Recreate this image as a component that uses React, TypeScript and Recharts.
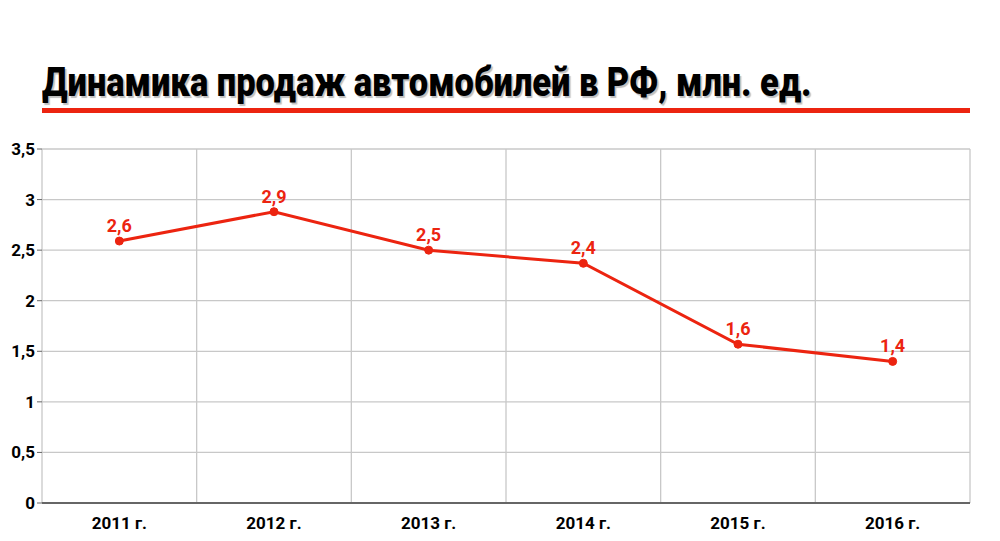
import { LineChart, Line, XAxis, YAxis, CartesianGrid, LabelList } from 'recharts';

const years = ['2011 г.', '2012 г.', '2013 г.', '2014 г.', '2015 г.', '2016 г.'];
const sales = [2.59, 2.88, 2.5, 2.37, 1.57, 1.4];
const yTicks = [0, 0.5, 1, 1.5, 2, 2.5, 3, 3.5];

const RED = '#ec2410';
const FONT = 'Roboto, Arial, sans-serif';

const fmt = (v: number) => String(v).replace('.', ',');

export default function App() {
  const data = years.map((year, i) => ({ year, value: sales[i] }));
  const half = 928 / years.length / 2;

  return (
    <div style={{ position: 'fixed', left: 0, top: 0, width: 1000, height: 541, background: '#fff', fontFamily: FONT }}>
      {/* title + red rule */}
      <div
        style={{
          position: 'absolute', left: 42, top: 58, fontSize: 41, fontWeight: 900, color: '#000',
          whiteSpace: 'nowrap', textShadow: '2px 2px 1px rgba(0,0,0,0.25)',
          transform: 'scaleX(0.84)', transformOrigin: 'left top',
        }}
      >
        Динамика продаж автомобилей в РФ, млн. ед.
      </div>
      <div style={{ position: 'absolute', left: 42, top: 108, width: 928, height: 5, background: RED }} />

      <LineChart width={1000} height={541} data={data} margin={{ top: 149, right: 30, bottom: 0, left: 0 }}>
        <CartesianGrid
          stroke="#c8c8c8"
          strokeWidth={1.3}
          verticalCoordinatesGenerator={({ offset }: any) =>
            years.map((_, i) => offset.left + (i * offset.width) / years.length).concat(offset.left + offset.width)
          }
        />
        <XAxis
          dataKey="year"
          height={38}
          padding={{ left: half, right: half }}
          axisLine={{ stroke: '#666', strokeWidth: 2 }}
          tickLine={false}
          tick={{ fill: '#000', fontSize: 17, fontWeight: 700, fontFamily: FONT }}
          tickMargin={8}
        />
        <YAxis
          width={42}
          domain={[0, 3.5]}
          ticks={yTicks}
          tickFormatter={fmt}
          axisLine={false}
          tickLine={{ stroke: '#666' }}
          tickSize={5}
          tick={{ fill: '#000', fontSize: 17, fontWeight: 700, fontFamily: FONT }}
        />
        <Line
          type="linear"
          dataKey="value"
          stroke={RED}
          strokeWidth={3}
          dot={{ r: 4, fill: RED, stroke: RED, strokeWidth: 1 }}
          isAnimationActive={false}
        >
          <LabelList
            dataKey="value"
            position="top"
            offset={9}
            formatter={(v: any) => fmt(Number(v).toFixed(1) as any)}
            style={{ fill: RED, fontSize: 18, fontWeight: 700, fontFamily: FONT }}
          />
        </Line>
      </LineChart>
    </div>
  );
}
